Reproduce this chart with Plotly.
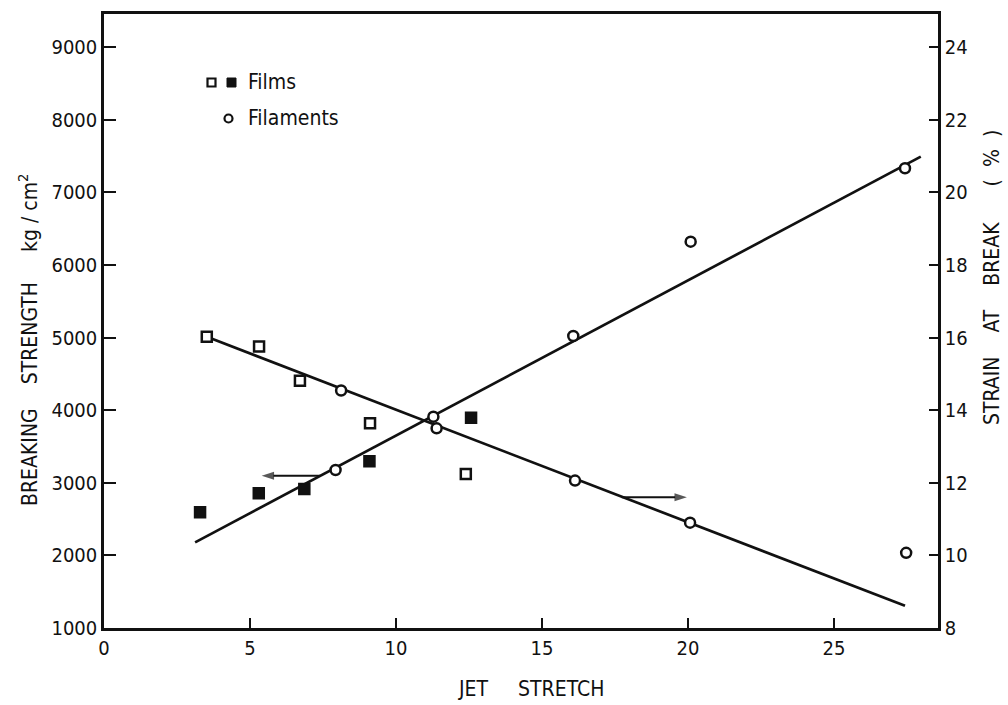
import plotly.graph_objects as go

# ---- data ----
# Breaking strength (kg/cm^2), left axis
films_str_x = [3.29, 5.30, 6.86, 9.09, 12.57]
films_str_y = [2594, 2855, 2915, 3296, 3897]
fil_str_x = [7.93, 11.28, 16.07, 20.09, 27.43]
fil_str_y = [3176, 3911, 5022, 6321, 7332]
fit_str_x = [3.12, 27.97]
fit_str_y = [2180, 7492]

# Strain at break (%), right axis
films_strain_x = [3.52, 5.31, 6.71, 9.11, 12.39]
films_strain_y = [16.02, 15.75, 14.81, 13.64, 12.24]
fil_strain_x = [8.12, 11.39, 16.13, 20.07, 27.47]
fil_strain_y = [14.54, 13.50, 12.06, 10.90, 10.07]
fit_strain_x = [3.52, 27.43]
fit_strain_y = [16.02, 8.61]

# arrows (tail -> head) indicating which axis each line belongs to
arrow_str_x = [7.40, 5.40]
arrow_str_y = [3098, 3098]
arrow_strain_x = [17.73, 19.96]
arrow_strain_y = [11.60, 11.60]

x_ticks = [0, 5, 10, 15, 20, 25]
left_ticks = [1000, 2000, 3000, 4000, 5000, 6000, 7000, 8000, 9000]
right_ticks = [8, 10, 12, 14, 16, 18, 20, 22, 24]

FONT = "DejaVu Sans Condensed, DejaVu Sans, sans-serif"
BLACK = "#111111"

fig = go.Figure()

line_style = dict(color=BLACK, width=2.7)
fig.add_trace(go.Scatter(x=fit_str_x, y=fit_str_y, mode="lines", line=line_style,
                         showlegend=False, hoverinfo="skip"))
fig.add_trace(go.Scatter(x=fit_strain_x, y=fit_strain_y, mode="lines", line=line_style,
                         yaxis="y2", showlegend=False, hoverinfo="skip"))

arrow_marker = dict(symbol="arrow", size=[0, 13], angleref="previous", color=BLACK,
                    line=dict(width=0))
fig.add_trace(go.Scatter(x=arrow_str_x, y=arrow_str_y, mode="lines+markers",
                         line=dict(color=BLACK, width=2), marker=arrow_marker,
                         showlegend=False, hoverinfo="skip"))
fig.add_trace(go.Scatter(x=arrow_strain_x, y=arrow_strain_y, mode="lines+markers",
                         line=dict(color=BLACK, width=2), marker=arrow_marker,
                         yaxis="y2", showlegend=False, hoverinfo="skip"))

open_sq = dict(symbol="square", size=10, color="white", line=dict(color=BLACK, width=2.5))
filled_sq = dict(symbol="square", size=11, color=BLACK, line=dict(color=BLACK, width=1.5))
open_ci = dict(symbol="circle", size=10, color="white", line=dict(color=BLACK, width=2.5))

fig.add_trace(go.Scatter(x=films_str_x, y=films_str_y, mode="markers", marker=filled_sq,
                         name="Films (strength)", showlegend=False))
fig.add_trace(go.Scatter(x=fil_str_x, y=fil_str_y, mode="markers", marker=open_ci,
                         name="Filaments (strength)", showlegend=False))
fig.add_trace(go.Scatter(x=films_strain_x, y=films_strain_y, mode="markers", marker=open_sq,
                         yaxis="y2", name="Films (strain)", showlegend=False))
fig.add_trace(go.Scatter(x=fil_strain_x, y=fil_strain_y, mode="markers", marker=open_ci,
                         yaxis="y2", name="Filaments (strain)", showlegend=False))

# plot area geometry
W, H = 1008, 705
L, R, T, B = 104, 70, 14, 77
pw, ph = W - L - R, H - T - B

def px(xp):
    return (xp - L) / pw

def py(yp):
    return (H - B - yp) / ph

TS = 20
tickfont = dict(family=FONT, size=TS, color=BLACK)
titlefont = dict(family=FONT, size=21, color=BLACK)

fig.update_layout(
    width=W, height=H,
    margin=dict(l=L, r=R, t=T, b=B),
    paper_bgcolor="white", plot_bgcolor="white",
    font=dict(family=FONT, color=BLACK),
    xaxis=dict(range=[0, 28.56], tickvals=x_ticks, ticktext=[str(v) for v in x_ticks],
               ticks="inside", ticklen=10, tickwidth=2, tickcolor=BLACK,
               showline=True, linecolor=BLACK, linewidth=2.5, mirror=True,
               showgrid=False, zeroline=False, tickfont=tickfont),
    yaxis=dict(range=[1000, 9457], tickvals=left_ticks, ticktext=[str(v) for v in left_ticks],
               ticks="inside", ticklen=12, tickwidth=2, tickcolor=BLACK,
               showline=True, linecolor=BLACK, linewidth=2.5,
               showgrid=False, zeroline=False, tickfont=tickfont),
    yaxis2=dict(range=[8, 24.91], tickvals=right_ticks, ticktext=[str(v) for v in right_ticks],
                overlaying="y", side="right",
                ticks="inside", ticklen=9, tickwidth=2, tickcolor=BLACK,
                showline=True, linecolor=BLACK, linewidth=2.5,
                showgrid=False, zeroline=False, tickfont=tickfont),
)

annotations = [
    dict(text="BREAKING    STRENGTH     kg / cm<sup>2</sup>", x=px(28), y=py(340),
         xref="paper", yref="paper", textangle=-90, showarrow=False,
         xanchor="center", yanchor="middle", font=titlefont),
    dict(text="STRAIN    AT    BREAK      (  %  )", x=px(992), y=py(278),
         xref="paper", yref="paper", textangle=-90, showarrow=False,
         xanchor="center", yanchor="middle", font=titlefont),
    dict(text="JET     STRETCH", x=px(531), y=py(689),
         xref="paper", yref="paper", showarrow=False,
         xanchor="center", yanchor="middle", font=titlefont),
    dict(text="Films", x=px(246), y=py(82), xref="paper", yref="paper", showarrow=False,
         xanchor="left", yanchor="middle", font=titlefont),
    dict(text="Filaments", x=px(246), y=py(118), xref="paper", yref="paper", showarrow=False,
         xanchor="left", yanchor="middle", font=titlefont),
]
fig.update_layout(annotations=annotations)

# legend symbols
def box(cx, cy, s):
    return dict(x0=px(cx - s / 2), x1=px(cx + s / 2), y0=py(cy + s / 2), y1=py(cy - s / 2))

shapes = [
    dict(type="rect", xref="paper", yref="paper", line=dict(color=BLACK, width=2.2),
         fillcolor="white", **box(211.5, 82.5, 8)),
    dict(type="rect", xref="paper", yref="paper", line=dict(color=BLACK, width=1),
         fillcolor=BLACK, **box(231.5, 82.5, 9)),
    dict(type="circle", xref="paper", yref="paper", line=dict(color=BLACK, width=2.2),
         fillcolor="white", **box(228.5, 118.5, 8)),
]
fig.update_layout(shapes=shapes)

fig.write_html("out.html")
